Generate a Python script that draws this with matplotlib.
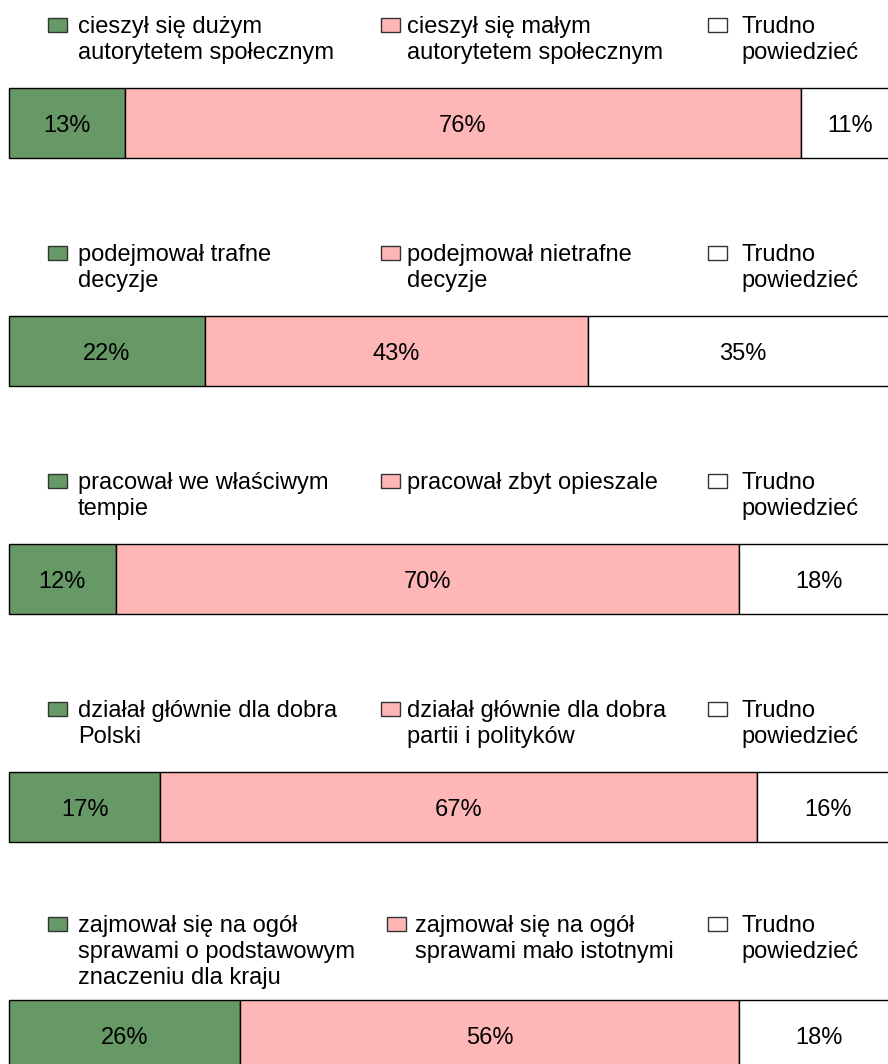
import numpy as np
import matplotlib.pyplot as plt
from matplotlib.patches import Rectangle

plt.rcParams['font.family'] = ['Liberation Sans', 'DejaVu Sans']

# dane z wykresu (w %)
pozytywne = [13, 22, 12, 17, 26]
negatywne = [76, 43, 70, 67, 56]
trudno = [11, 35, 18, 16, 18]

etykiety_poz = ['cieszył się dużym\nautorytetem społecznym',
                'podejmował trafne\ndecyzje',
                'pracował we właściwym\ntempie',
                'działał głównie dla dobra\nPolski',
                'zajmował się na ogół\nsprawami o podstawowym\nznaczeniu dla kraju']
etykiety_neg = ['cieszył się małym\nautorytetem społecznym',
                'podejmował nietrafne\ndecyzje',
                'pracował zbyt opieszale',
                'działał głównie dla dobra\npartii i polityków',
                'zajmował się na ogół\nsprawami mało istotnymi']
etykieta_trudno = 'Trudno\npowiedzieć'

kolory = ['#669966', '#ffb6b6', 'white']

W, H = 888, 1064
PX_X = 8.9    # pikseli na 1%
PX_Y = 228    # pikseli na wiersz
X0, Y0 = 9, 123

fig = plt.figure(figsize=(W / 100, H / 100), dpi=100)
ax = fig.add_axes([0, 0, 1, 1])
ax.set_xlim(-X0 / PX_X, (W - X0) / PX_X)
ax.set_ylim((H - Y0) / PX_Y, -Y0 / PX_Y)
ax.axis('off')

def px(x):
    return (x - X0) / PX_X

wiersze = np.arange(len(pozytywne))
serie = [pozytywne, negatywne, trudno]
lewo = np.zeros(len(wiersze))
for wart, kol in zip(serie, kolory):
    wart = np.array(wart)
    ax.barh(wiersze, wart, left=lewo, height=70 / PX_Y, color=kol,
            edgecolor='black', linewidth=1)
    for i, v in enumerate(wart):
        ax.text(lewo[i] + v / 2, i, f'{v}%', ha='center', va='center_baseline',
                fontsize=17, color='black')
    lewo += wart

# legendy nad każdym paskiem
for i in wiersze:
    teksty = [etykiety_poz[i], etykiety_neg[i], etykieta_trudno]
    n = max(t.count('\n') + 1 for t in teksty)
    pierwsza = -77 - (n - 1) / 2 * 26
    if i == 4:
        xs = [(48, 78), (387, 415), (708, 741)]
    else:
        xs = [(48, 78), (381, 407), (708, 741)]
    for (xk, xt), t, kol in zip(xs, teksty, kolory):
        ax.add_patch(Rectangle((px(xk), i + (pierwsza - 15) / PX_Y), 19 / PX_X, 14 / PX_Y,
                               facecolor=kol, edgecolor='#333333', linewidth=1))
        for k, linia in enumerate(t.split('\n')):
            ax.text(px(xt), i + (pierwsza + 26 * k) / PX_Y, linia, ha='left',
                    va='baseline', fontsize=17, color='black')

fig.savefig('out.png', dpi=100)
